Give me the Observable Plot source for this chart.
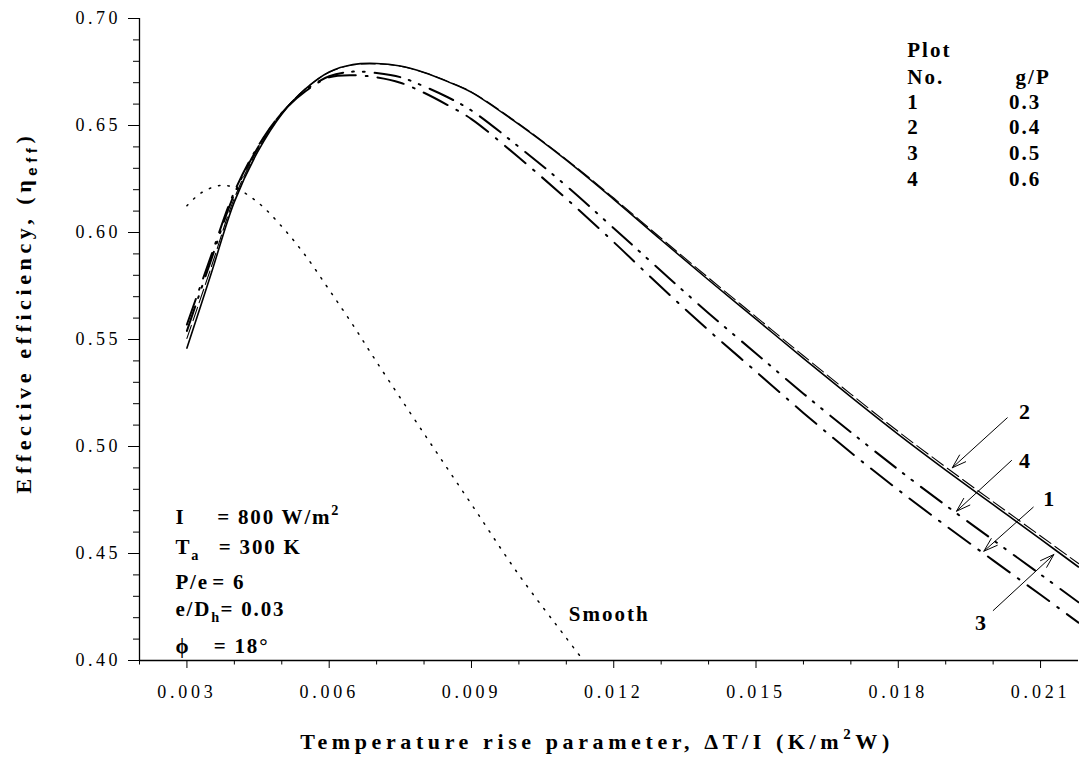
<!DOCTYPE html>
<html><head><meta charset="utf-8">
<script src="https://cdn.jsdelivr.net/npm/d3@7"></script>
<script src="https://cdn.jsdelivr.net/npm/@observablehq/plot@0.6"></script>
<style>html,body{margin:0;padding:0;background:#fff;}</style>
</head><body><div id="chart"></div>
<script>
// ---- data ----
const xValues = [0.003, 0.0035, 0.004, 0.0045, 0.005, 0.0055, 0.006, 0.0065, 0.007, 0.0075, 0.008, 0.0085, 0.009, 0.010, 0.011, 0.012, 0.013, 0.014, 0.015, 0.016, 0.017, 0.018, 0.019, 0.020, 0.021, 0.0218];
// Plot 1, g/P = 0.3 (dash-dot)
const curve1 = [0.5570, 0.5885, 0.6190, 0.6403, 0.6558, 0.6660, 0.6725, 0.6735, 0.6725, 0.6700, 0.6653, 0.6595, 0.6530, 0.6350, 0.6158, 0.5955, 0.5745, 0.5543, 0.5350, 0.5157, 0.4972, 0.4797, 0.4630, 0.4468, 0.4307, 0.4177];
// Plot 2, g/P = 0.4 (long dash)
const curve2 = [0.5505, 0.5830, 0.6160, 0.6390, 0.6557, 0.6672, 0.6749, 0.6783, 0.6788, 0.6777, 0.6748, 0.6706, 0.6657, 0.6508, 0.6342, 0.6161, 0.5973, 0.5788, 0.5606, 0.5424, 0.5245, 0.5070, 0.4904, 0.4742, 0.4582, 0.4453];
// Plot 3, g/P = 0.5 (solid)
const curve3 = [0.5460, 0.5800, 0.6143, 0.6380, 0.6553, 0.6671, 0.6750, 0.6785, 0.6790, 0.6778, 0.6748, 0.6705, 0.6655, 0.6505, 0.6338, 0.6155, 0.5965, 0.5778, 0.5595, 0.5412, 0.5232, 0.5057, 0.4890, 0.4728, 0.4567, 0.4437];
// Plot 4, g/P = 0.6 (dash-dot-dot)
const curve4 = [0.5540, 0.5865, 0.6180, 0.6398, 0.6558, 0.6665, 0.6730, 0.6752, 0.6745, 0.6726, 0.6683, 0.6632, 0.6570, 0.6400, 0.6218, 0.6020, 0.5820, 0.5623, 0.5435, 0.5247, 0.5067, 0.4892, 0.4725, 0.4563, 0.4402, 0.4272];
// Smooth duct (dotted)
const smoothX = [0.003, 0.0033, 0.0037, 0.004, 0.0045, 0.005, 0.0055, 0.006, 0.0065, 0.007, 0.008, 0.009, 0.010, 0.011, 0.01136];
const smoothY = [0.6125, 0.6185, 0.6220, 0.6210, 0.6140, 0.6028, 0.5892, 0.5732, 0.5568, 0.5395, 0.5060, 0.4730, 0.4400, 0.4105, 0.4000];

const xMajorTicks = [0.003, 0.006, 0.009, 0.012, 0.015, 0.018, 0.021];
const xMinorTicks = [0.002, 0.004, 0.005, 0.007, 0.008, 0.010, 0.011, 0.013, 0.014, 0.016, 0.017, 0.019, 0.020];
const yMajorTicks = [0.40, 0.45, 0.50, 0.55, 0.60, 0.65, 0.70];
const yMinorTicks = [0.41, 0.42, 0.43, 0.44, 0.46, 0.47, 0.48, 0.49, 0.51, 0.52, 0.53, 0.54, 0.56, 0.57, 0.58, 0.59, 0.61, 0.62, 0.63, 0.64, 0.66, 0.67, 0.68, 0.69];

const plotNos = ["1", "2", "3", "4"];
const gpValues = ["0.3", "0.4", "0.5", "0.6"];
const paramNames = ["I", "T_a", "P/e", "e/D_h", "ϕ"];
const paramValues = ["= 800 W/m^2", "= 300 K", "= 6", "= 0.03", "= 18°"];
const xTitle = "Temperature rise parameter, ΔT/I (K/m^2W)";
const yTitle = "Effective efficiency, (η_{eff})";
const smoothLabel = "Smooth";

// ---- tables built from the arrays ----
const toRows = ys => xValues.map((x, i) => ({x, y: ys[i]}));
const smoothRows = smoothX.map((x, i) => ({x, y: smoothY[i]}));

// annotation placements (data units)
const legendRows = plotNos.map((n, i) => ({n, gp: gpValues[i], y: [0.6578, 0.6458, 0.6340, 0.6216][i]}));
const paramRows = paramNames.map((n, i) => ({
  n, v: paramValues[i],
  y: [0.4639, 0.4499, 0.4335, 0.4210, 0.4034][i],
  xv: [0.003639, 0.003672, 0.003533, 0.003708, 0.003565][i]
}));
const arrowRows = [
  {label: "2", x1: 0.020298, y1: 0.51341, x2: 0.019138, y2: 0.49005, lx: 0.020663, ly: 0.5160},
  {label: "4", x1: 0.020388, y1: 0.49346, x2: 0.019228, y2: 0.46977, lx: 0.020663, ly: 0.4932},
  {label: "1", x1: 0.020846, y1: 0.47164, x2: 0.019804, y2: 0.45107, lx: 0.021175, ly: 0.4757},
  {label: "3", x1: 0.020002, y1: 0.42336, x2: 0.021280, y2: 0.44953, lx: 0.019735, ly: 0.4174}
];

const tag = name => ({ariaLabel: () => name});
const bold = {fontWeight: "bold", fill: "black"};

const plot = Plot.plot({
  width: 1079,
  height: 761,
  marginLeft: 139,
  marginRight: 1,
  marginTop: 18,
  marginBottom: 101,
  style: {fontFamily: "'Liberation Serif', 'Times New Roman', serif", fontSize: "18px", color: "black", background: "white"},
  x: {domain: [0.002, 0.0218]},
  y: {domain: [0.40, 0.70]},
  marks: [
    Plot.axisX({ticks: xMinorTicks, tickSize: 4.5, tickFormat: () => "", label: null, stroke: "black"}),
    Plot.axisX({ticks: xMajorTicks, tickSize: 8, tickPadding: 17, tickFormat: d3.format(".3f"), fontSize: 18, label: null, stroke: "black"}),
    Plot.axisY({ticks: yMinorTicks, tickSize: 6, tickFormat: () => "", label: null, stroke: "black"}),
    Plot.axisY({ticks: yMajorTicks, tickSize: 11, tickPadding: 7.5, tickFormat: d3.format(".2f"), fontSize: 18, label: null, stroke: "black"}),
    Plot.ruleX([0.002], {stroke: "black", strokeWidth: 1.3}),
    Plot.ruleY([0.40], {stroke: "black", strokeWidth: 1.3}),

    Plot.line(smoothRows, {x: "x", y: "y", curve: "catmull-rom", stroke: "black", strokeWidth: 1.5, strokeDasharray: "1.5,8"}),
    Plot.line(toRows(curve3), {x: "x", y: "y", curve: "catmull-rom", stroke: "black", strokeWidth: 1.6}),
    Plot.line(toRows(curve2), {x: "x", y: "y", curve: "catmull-rom", stroke: "black", strokeWidth: 1.1, strokeDasharray: "14,5"}),
    Plot.line(toRows(curve4), {x: "x", y: "y", curve: "catmull-rom", stroke: "black", strokeWidth: 2, strokeDasharray: "26,9,1.8,9,1.8,10"}),
    Plot.line(toRows(curve1), {x: "x", y: "y", curve: "catmull-rom", stroke: "black", strokeWidth: 2, strokeDasharray: "27,10,1.8,10"}),

    Plot.arrow(arrowRows, {x1: "x1", y1: "y1", x2: "x2", y2: "y2", stroke: "black", strokeWidth: 1, headLength: 22, headAngle: 36}),
    Plot.text(arrowRows, {x: "lx", y: "ly", text: "label", fontSize: 22, ...bold, ...tag("arrowlabels")}),

    Plot.text(["Plot", "No."], {x: 0.018189, y: [0.68192, 0.66949], text: d => d, textAnchor: "start", lineAnchor: "bottom", fontSize: 21, ...bold, ...tag("legend")}),
    Plot.text(["g/P"], {x: 0.020473, y: 0.66949, text: d => d, textAnchor: "start", lineAnchor: "bottom", fontSize: 21, ...bold, ...tag("legend")}),
    Plot.text(legendRows, {x: 0.018189, y: "y", text: "n", textAnchor: "start", lineAnchor: "bottom", fontSize: 21, ...bold, ...tag("legend")}),
    Plot.text(legendRows, {x: 0.020332, y: "y", text: "gp", textAnchor: "start", lineAnchor: "bottom", fontSize: 21, ...bold, ...tag("legend")}),

    Plot.text(paramRows, {x: 0.002759, y: "y", text: "n", textAnchor: "start", lineAnchor: "bottom", fontSize: 21, ...bold, ...tag("params")}),
    Plot.text(paramRows, {x: "xv", y: "y", text: "v", textAnchor: "start", lineAnchor: "bottom", fontSize: 21, ...bold, ...tag("params")}),

    Plot.text([smoothLabel], {x: 0.011053, y: 0.41869, text: d => d, textAnchor: "start", lineAnchor: "bottom", fontSize: 21, ...bold, ...tag("smooth")}),

    Plot.text([xTitle], {frameAnchor: "bottom", dx: -12, dy: 88, text: d => d, textAnchor: "middle", lineAnchor: "bottom", fontSize: 22, ...bold, ...tag("xtitle")}),
    Plot.text([yTitle], {frameAnchor: "left", dx: -116, dy: -27, rotate: -90, text: d => d, textAnchor: "middle", lineAnchor: "middle", fontSize: 22, ...bold, ...tag("ytitle")})
  ]
});

document.getElementById("chart").appendChild(plot);

// ---- typographic post-processing (letter spacing, sub/superscripts) ----
const svg = d3.select(plot);
svg.selectAll('g[aria-label="x-axis tick label"] text').attr("letter-spacing", 3.8);
svg.selectAll('g[aria-label="y-axis tick label"] text').attr("letter-spacing", 3.5);
const spacing = {xtitle: 4.6, ytitle: 4.6, params: 1.8, legend: 2, smooth: 2, arrowlabels: 0};
for (const [k, v] of Object.entries(spacing)) svg.selectAll(`text[aria-label="${k}"]`).attr("letter-spacing", v);

function richify(node, fs) {
  const s = node.textContent;
  if (!/[_^]/.test(s)) return;
  const parts = [];
  let i = 0, buf = "";
  while (i < s.length) {
    const c = s[i];
    if ((c === "_" || c === "^") && i + 1 < s.length) {
      if (buf) { parts.push({t: buf, k: "n"}); buf = ""; }
      let t;
      if (s[i + 1] === "{") { const j = s.indexOf("}", i); t = s.slice(i + 2, j); i = j + 1; }
      else { t = s[i + 1]; i += 2; }
      parts.push({t, k: c === "_" ? "sub" : "sup"});
    } else { buf += c; i++; }
  }
  if (buf) parts.push({t: buf, k: "n"});
  node.textContent = "";
  let shift = 0;
  for (const p of parts) {
    const target = p.k === "sub" ? fs * 0.3 : p.k === "sup" ? -fs * 0.42 : 0;
    const ts = document.createElementNS("http://www.w3.org/2000/svg", "tspan");
    ts.setAttribute("dy", target - shift);
    shift = target;
    if (p.k !== "n") ts.setAttribute("font-size", fs * 0.68);
    if (p.t === "eff") ts.setAttribute("font-family", "'Liberation Sans', Arial, sans-serif");
    ts.textContent = p.t;
    node.appendChild(ts);
  }
}
svg.selectAll("text").each(function() {
  const fs = parseFloat(this.getAttribute("font-size") || this.parentNode.getAttribute("font-size") || 21);
  richify(this, fs);
});
</script>
</body></html>
